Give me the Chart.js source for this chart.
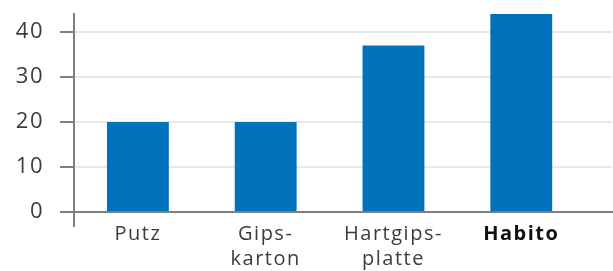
<!DOCTYPE html>
<html>
<head>
<meta charset="utf-8">
<script src="https://cdn.jsdelivr.net/npm/chart.js@4"></script>
<style>
  html, body { margin: 0; padding: 0; background: #fff; }
  #wrap { width: 613px; height: 271px; }
</style>
</head>
<body>
<div id="wrap"><canvas id="myChart"></canvas></div>
<script>
const categories = [['Putz'], ['Gips-', 'karton'], ['Hartgips-', 'platte'], ['Habito']];
const werte = [20, 20, 37, 44];
const yTicks = [0, 10, 20, 30, 40];

const ctx = document.getElementById('myChart');

// etwas breitere Schrift, wie im Original
const spacing = {
    id: 'spacing',
    beforeDraw: function (chart) { chart.ctx.letterSpacing = '1.5px'; }
};

new Chart(ctx, {
    type: 'bar',
    plugins: [spacing],
    data: {
        datasets: [{
            data: werte.map((v, i) => ({x: i, y: v})),
            backgroundColor: '#0072bc',
            borderWidth: 0,
            barPercentage: 0.968,
            categoryPercentage: 1
        }]
    },
    options: {
        responsive: true,
        maintainAspectRatio: false,
        animation: false,
        layout: {padding: {top: 14, right: 1, left: 0, bottom: 0}},
        plugins: {legend: {display: false}, tooltip: {enabled: false}},
        scales: {
            x: {
                type: 'linear',
                offset: false,
                min: -0.5,
                max: 3.71,
                afterBuildTicks: function (scale) {
                    scale.ticks = [{value: -0.5}].concat(categories.map((c, i) => ({value: i})));
                },
                afterFit: function (scale) {
                    scale.height = 59;
                    scale.paddingLeft = 0;
                    scale.paddingRight = 0;
                },
                border: {display: true, color: '#7f7f7f', width: 2},
                grid: {
                    offset: false,
                    drawOnChartArea: false,
                    tickLength: 15,
                    lineWidth: 2,
                    color: c => c.index === 0 ? '#7f7f7f' : 'rgba(0,0,0,0)'
                },
                ticks: {
                    autoSkip: false,
                    maxRotation: 0,
                    padding: -5,
                    color: c => c.index === 4 ? '#111' : '#3c3c3c',
                    font: c => ({family: 'Open Sans', size: 20, weight: c.index === 4 ? 'bold' : 'normal', lineHeight: 1.25}),
                    callback: function (value) {
                        return Number.isInteger(value) && value >= 0 ? categories[value] : '';
                    }
                }
            },
            y: {
                min: 0,
                max: 44,
                afterBuildTicks: function (scale) {
                    scale.ticks = yTicks.map(v => ({value: v}));
                },
                afterFit: function (scale) {
                    scale.width = 74;
                    scale.paddingTop = 0;
                    scale.paddingBottom = 0;
                },
                border: {display: true, color: '#7f7f7f', width: 2},
                grid: {
                    color: '#e8e8e8',
                    lineWidth: 2,
                    tickColor: '#7f7f7f',
                    tickLength: 14
                },
                ticks: {
                    padding: 16,
                    color: '#3c3c3c',
                    font: {family: 'Open Sans', size: 22}
                }
            }
        }
    }
});
</script>
</body>
</html>
